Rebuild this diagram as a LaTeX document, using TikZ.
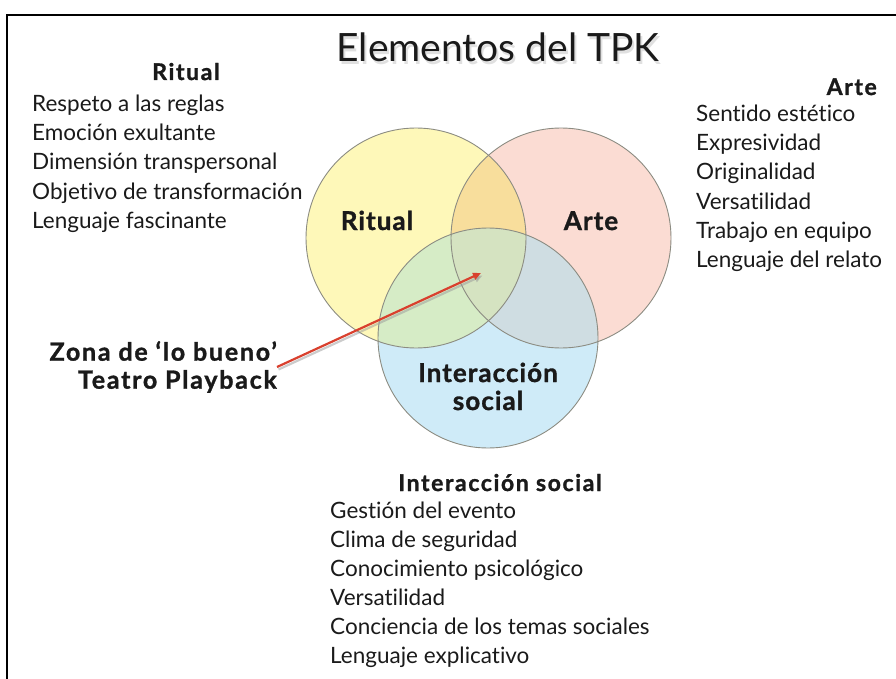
\documentclass[tikz,border=0pt]{standalone}
\usepackage{fontspec}
\setmainfont{Lato}[Ligatures={NoCommon,NoRequired}]
\usetikzlibrary{arrows.meta}

\definecolor{amarillo}{HTML}{FEF8B9}
\definecolor{rosa}{HTML}{FBDCD3}
\definecolor{celeste}{HTML}{CFEBF8}
\definecolor{naranja}{HTML}{F8DE9C}
\definecolor{verde}{HTML}{D6ECC6}
\definecolor{gris}{HTML}{CFDDE2}
\definecolor{centro}{HTML}{D5E3C1}
\definecolor{borde}{HTML}{8C8C82}
\definecolor{rojo}{HTML}{D9402E}
\definecolor{tinta}{HTML}{1A1A1A}

\begin{document}
\begin{tikzpicture}[x=1pt,y=-1pt,
    conjunto/.style={circle,draw=borde,line width=0.9pt,minimum size=220pt,inner sep=0pt},
    titulo/.style={font=\fontsize{39}{44}\selectfont,inner sep=0pt,anchor=base},
    cabecera/.style={font=\fontsize{23}{26}\selectfont\bfseries\addfontfeature{LetterSpace=7,FakeBold=1.2},text=tinta,inner sep=0pt},
    rotulo/.style={font=\fontsize{26}{30}\selectfont\bfseries\addfontfeature{LetterSpace=4,FakeBold=1.2},text=tinta,inner sep=0pt,anchor=base},
    item/.style={font=\fontsize{22.5}{26}\selectfont,text=tinta,inner sep=0pt,anchor=base west},
    flecha/.style={draw=rojo,line width=2.2pt,-{Triangle[length=8pt,width=7pt]}}]
\useasboundingbox (0,0) rectangle (896,679);
\draw [line width=2.5pt] (7,679) -- (7,15) -- (896,15);

\coordinate (cRitual) at (416,238);
\coordinate (cArte) at (561,238);
\coordinate (cSocial) at (488,338);

\fill [amarillo] (cRitual) circle (110);
\fill [rosa] (cArte) circle (110);
\fill [celeste] (cSocial) circle (110);
\begin{scope}
  \clip (cRitual) circle (110);
  \fill [naranja] (cArte) circle (110);
  \fill [verde] (cSocial) circle (110);
\end{scope}
\begin{scope}
  \clip (cArte) circle (110);
  \fill [gris] (cSocial) circle (110);
  \clip (cRitual) circle (110);
  \fill [centro] (cSocial) circle (110);
\end{scope}
\node [conjunto] (ritual) at (cRitual) {};
\node [conjunto] (arte) at (cArte) {};
\node [conjunto] (social) at (cSocial) {};

\node [titulo,text=black!40,opacity=0.3] at (500,65) {Elementos del TPK};
\node [titulo,text=tinta] (tit) at (498,62) {Elementos del TPK};

\node [rotulo] (lRitual) at (377,230) {Ritual};
\node [rotulo] (lArte) at (591,230) {Arte};
\node [rotulo] (lInter) at (488,382) {Interacción};
\node [rotulo] (lSocial) at (488,410) {social};

\node [cabecera,anchor=base] (hRitual) at (186,80) {Ritual};
\foreach \t [count=\i] in {Respeto a las reglas,Emoción exultante,Dimensión transpersonal,Objetivo de transformación,Lenguaje fascinante}
  \node [item] (rit\i) at (32,{112+29*(\i-1)}) {\t};

\node [cabecera,anchor=base east] (hArte) at (877,95) {Arte};
\foreach \t [count=\i] in {Sentido estético,Expresividad,Originalidad,Versatilidad,Trabajo en equipo,Lenguaje del relato}
  \node [item] (art\i) at (696,{122+29*(\i-1)}) {\t};

\node [cabecera,anchor=base] (hSocial) at (500,491) {Interacción social};
\foreach \t [count=\i] in {Gestión del evento,Clima de seguridad,Conocimiento psicológico,Versatilidad,Conciencia de los temas sociales,Lenguaje explicativo}
  \node [item] (soc\i) at (330,{518+29*(\i-1)}) {\t};

\node [rotulo,align=right,anchor=east,font=\fontsize{25}{28}\selectfont\bfseries\addfontfeature{LetterSpace=7,FakeBold=1.2}] (zona) at (277,367) {Zona de ‘lo bueno’\\Teatro Playback};
\coordinate (punta) at (481,273);
\draw [black!40,line width=2.2pt,opacity=0.5,-{Triangle[length=8pt,width=7pt]}] ([shift={(1.5,2.5)}]zona.east) -- ([shift={(1.5,2.5)}]punta);
\draw [flecha] (zona.east) -- (punta);
\end{tikzpicture}
\end{document}
